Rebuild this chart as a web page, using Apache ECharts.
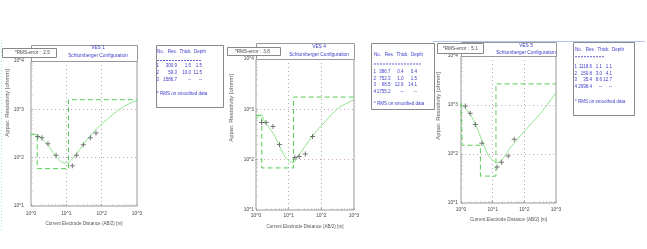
<!DOCTYPE html>
<html>
<head>
<meta charset="utf-8">
<script src="https://cdn.jsdelivr.net/npm/echarts@6/dist/echarts.min.js"></script>
<style>
html, body { margin: 0; padding: 0; background: #fff; }
#chart { width: 647px; height: 249px; }
</style>
</head>
<body>
<div id="chart"></div>
<script>
// tick labels (exponent -> text)
var xTickLabels = ['10^0', '10^1', '10^2', '10^3'];
var yTickLabels = ['10^0', '10^1', '10^2', '10^3', '10^4'];

// VES 1 - layer model
var ves1Res = [300.9, 59.3, 1586.7];
var ves1Thick = [1.5, 10.0, null];
var ves1Depth = [1.5, 11.5, null];
var ves1Rms = '2.5';
// VES 1 - smoothed curve and field readings
var ves1CurveAB = [1, 1.55, 2.82, 4.79, 7.41, 10.2, 13.2, 19.5, 37.2, 72.4, 170, 407, 1000];
var ves1CurveRho = [316, 288, 195, 112, 81, 78, 87, 120, 229, 398, 692, 1122, 1549];
var ves1ObsAB = [1.55, 2.04, 3.02, 5.13, 14.8, 19.5, 30.2, 48, 69.2];
var ves1ObsRho = [275, 257, 195, 112, 68, 112, 186, 257, 324];

// VES 4
var ves4Res = [386.7, 752.3, 68.5, 1755.2];
var ves4Thick = [0.4, 1.0, 12.6, null];
var ves4Depth = [0.4, 1.5, 14.1, null];
var ves4Rms = '3.8';
var ves4CurveAB = [1, 1.41, 1.86, 3.39, 5.37, 7.76, 11.0, 14.1, 17.4, 31.6, 56.2, 129, 324, 1000];
var ves4CurveRho = [617, 794, 562, 331, 182, 115, 91, 87, 107, 182, 309, 562, 1047, 1549];
var ves4ObsAB = [1.48, 2.04, 3.31, 5.25, 15.5, 20.9, 32.4, 53.7];
var ves4ObsRho = [550, 550, 457, 200, 110, 115, 129, 288];

// VES 5
var ves5Res = [1118.6, 150.8, 35.4, 2698.4];
var ves5Thick = [1.1, 3.0, 8.6, null];
var ves5Depth = [1.1, 4.1, 12.7, null];
var ves5Rms = '5.1';
var ves5CurveAB = [1, 1.74, 2.82, 4.57, 7.41, 12.0, 14.5, 22.4, 36.3, 95.5, 324, 1000];
var ves5CurveRho = [1047, 724, 417, 191, 93, 68, 66, 85, 135, 282, 676, 1778];
var ves5ObsAB = [1.38, 1.95, 2.82, 4.57, 13.8, 19.1, 30.9, 47.9];
var ves5ObsRho = [955, 676, 398, 166, 54, 68, 91, 200];

var FONT = '"Liberation Sans", Arial, sans-serif';
var BLUE = '#3b3bc8';
var plus = 'path://M4,0h2v4h4v2h-4v4h-2v-4h-4v-2h4z';

// layout of each panel (plot box, title, rms box, table, axis label spots)
var panels = [
  { name: 'VES 1', res: ves1Res, thick: ves1Thick, depth: ves1Depth, rms: ves1Rms,
    cx: ves1CurveAB, cy: ves1CurveRho, ox: ves1ObsAB, oy: ves1ObsRho,
    grid: [31, 61, 106, 145], titleTop: 45, titleX: 98, t1: 47.5, t2: 55.5,
    rmsBox: [2, 48, 54, 9], rmsX: 15,
    yName: [7.5, 103], yMargin: 7, xGap: 13, xMargin: 5,
    table: { box: [156, 45, 67, 62], x0: 157, head: 51.7, dash: 60.5, dashEnd: 202,
             rows: [66, 72.7, 79.3], cols: [159, 177, 191, 202], foot: 93.3 } },
  { name: 'VES 4', res: ves4Res, thick: ves4Thick, depth: ves4Depth, rms: ves4Rms,
    cx: ves4CurveAB, cy: ves4CurveRho, ox: ves4ObsAB, oy: ves4ObsRho,
    grid: [256, 59, 98, 151], titleTop: 43, titleX: 319, t1: 47, t2: 55,
    rmsBox: [227, 47, 53, 8], rmsX: 235,
    yName: [231.5, 108], yMargin: 2, xGap: 14, xMargin: 3,
    table: { box: [371, 43, 63, 66], x0: 374, head: 55, dash: 64, dashEnd: 421,
             rows: [71.7, 78.3, 85, 91.3], cols: [376, 390.5, 403.5, 417], foot: 103.3 } },
  { name: 'VES 5', res: ves5Res, thick: ves5Thick, depth: ves5Depth, rms: ves5Rms,
    cx: ves5CurveAB, cy: ves5CurveRho, ox: ves5ObsAB, oy: ves5ObsRho,
    grid: [461, 56, 95, 147], titleTop: 42, titleX: 526, t1: 45.5, t2: 52.7,
    rmsBox: [437, 43, 46, 10], rmsX: 443,
    yName: [438, 106], yMargin: 3, xGap: 11, xMargin: 4,
    table: { box: [573, 42, 61, 73], x0: 575, head: 50, dash: 56.7, dashEnd: 605,
             rows: [66.7, 73.3, 80, 86.7], cols: [577, 592, 602, 612], foot: 101.7 } }
];

// step model line from layer table (clipped to AB/2 = 1..1000)
function modelLine(res, depth) {
  var pts = [];
  for (var i = 0; i < res.length; i++) {
    var top = i === 0 ? 0 : depth[i - 1];
    var bot = depth[i] == null ? 1000 : depth[i];
    if (bot <= 1) continue;
    pts.push([Math.max(top, 1), res[i]], [bot, res[i]]);
  }
  return pts;
}
function zip(a, b) { return a.map(function (v, i) { return [v, b[i]]; }); }
function txt(s, x, y, opt) {
  opt = opt || {};
  return { type: 'text', z: 100, x: x, y: y, rotation: opt.rot || 0,
    style: { text: s, fill: opt.color || '#444', font: (opt.size || 4.6) + 'px ' + FONT,
             textAlign: opt.align || 'left', textVerticalAlign: 'middle' } };
}
function rect(b, stroke, z) {
  return { type: 'rect', z: z || 90, shape: { x: b[0] + 0.5, y: b[1] + 0.5, width: b[2], height: b[3] },
    style: { fill: '#fff', stroke: stroke || '#999', lineWidth: 1 } };
}

var grids = [], xAxes = [], yAxes = [], series = [], graphics = [];

// stray window decorations seen in the picture
graphics.push({ type: 'line', z: 80, shape: { x1: 433, y1: 41.5, x2: 645, y2: 41.5 },
  style: { stroke: '#b8c4f0', lineWidth: 1 } });
graphics.push({ type: 'line', z: 80, shape: { x1: 1.5, y1: 40, x2: 1.5, y2: 230 },
  style: { stroke: '#a8e8ee', lineWidth: 1, lineDash: [1, 2] } });

panels.forEach(function (p, i) {
  var g = p.grid;
  grids.push({ left: g[0], top: g[1], width: g[2], height: g[3], show: true,
    borderColor: '#999', borderWidth: 1, backgroundColor: '#fff', outerBoundsMode: 'none' });
  xAxes.push({ type: 'log', gridIndex: i, min: 1, max: 1000, logBase: 10, splitNumber: 3,
    axisLine: { show: false },
    axisTick: { show: true, inside: true, length: 2, lineStyle: { color: '#aaa' } },
    minorTick: { show: true, splitNumber: 9, length: 1.5, lineStyle: { color: '#bbb' } },
    axisLabel: { fontSize: 4.8, color: '#444', fontFamily: FONT, margin: p.xMargin,
      formatter: function (v) { return xTickLabels[Math.round(Math.log10(v))]; } },
    splitLine: { show: true, showMinLine: false, showMaxLine: false,
      lineStyle: { color: '#aaa', width: 1, type: [1, 3] } },
    name: 'Current Electrode Distance (AB/2) [m]', nameLocation: 'middle', nameGap: p.xGap,
    nameTextStyle: { fontSize: 4.6, color: '#555', fontFamily: FONT } });
  yAxes.push({ type: 'log', gridIndex: i, min: 10, max: 10000, logBase: 10, splitNumber: 3,
    axisLine: { show: false },
    axisTick: { show: true, inside: true, length: 2, lineStyle: { color: '#aaa' } },
    minorTick: { show: true, splitNumber: 9, length: 1.5, lineStyle: { color: '#bbb' } },
    axisLabel: { fontSize: 4.8, color: '#444', fontFamily: FONT, margin: p.yMargin,
      formatter: function (v) { return yTickLabels[Math.round(Math.log10(v))]; } },
    splitLine: { show: true, showMinLine: false, showMaxLine: false,
      lineStyle: { color: '#d8a0d8', width: 1, type: [1, 3] } } });

  series.push({ type: 'line', xAxisIndex: i, yAxisIndex: i, data: modelLine(p.res, p.depth),
    symbol: 'none', silent: true, z: 2,
    lineStyle: { color: '#58cc58', width: 1, type: [5, 3] } });
  series.push({ type: 'line', xAxisIndex: i, yAxisIndex: i, data: zip(p.cx, p.cy),
    symbol: 'none', smooth: 0.3, silent: true, z: 3,
    lineStyle: { color: '#80e080', width: 0.9 } });
  series.push({ type: 'scatter', xAxisIndex: i, yAxisIndex: i, data: zip(p.ox, p.oy),
    symbol: plus, symbolSize: 5, z: 4, itemStyle: { color: '#555' } });

  // title box
  graphics.push(rect([g[0], p.titleTop, g[2], g[1] - p.titleTop], '#999', 90));
  graphics.push(txt(p.name, p.titleX, p.t1, { color: BLUE, align: 'center', size: 4.8 }));
  graphics.push(txt('Schlumberger Configuration', p.titleX, p.t2, { color: BLUE, align: 'center', size: 4.8 }));
  // rms box
  graphics.push(rect(p.rmsBox, '#888', 95));
  graphics.push(txt('*RMS-error :  ' + p.rms, p.rmsX, p.rmsBox[1] + p.rmsBox[3] / 2 + 0.5, { color: '#444' }));
  // y axis name
  graphics.push(txt('Appar. Resistivity [ohmm]', p.yName[0], p.yName[1],
    { rot: Math.PI / 2, align: 'center', color: '#555', size: 6 }));

  // layer table
  var t = p.table;
  graphics.push(rect(t.box, '#888', 90));
  graphics.push(txt('No.   Res.  Thick.  Depth', t.x0, t.head, { color: BLUE, size: 4.5 }));
  graphics.push({ type: 'line', z: 100, shape: { x1: t.x0, y1: t.dash, x2: t.dashEnd, y2: t.dash },
    style: { stroke: BLUE, lineWidth: 0.8, lineDash: [2, 1] } });
  p.res.forEach(function (r, k) {
    var y = t.rows[k];
    var cells = [String(k + 1), r.toFixed(1),
      p.thick[k] == null ? '--' : p.thick[k].toFixed(1),
      p.depth[k] == null ? '--' : p.depth[k].toFixed(1)];
    cells.forEach(function (c, j) {
      graphics.push(txt(c, t.cols[j], y, { color: BLUE, align: 'right', size: 4.5 }));
    });
  });
  graphics.push(txt('* RMS on smoothed data', t.x0, t.foot, { color: BLUE, size: 4.5 }));
});

var chart = echarts.init(document.getElementById('chart'), null, { renderer: 'canvas' });
chart.setOption({
  animation: false,
  backgroundColor: '#fff',
  grid: grids,
  xAxis: xAxes,
  yAxis: yAxes,
  series: series,
  graphic: { elements: graphics }
});
</script>
</body>
</html>
